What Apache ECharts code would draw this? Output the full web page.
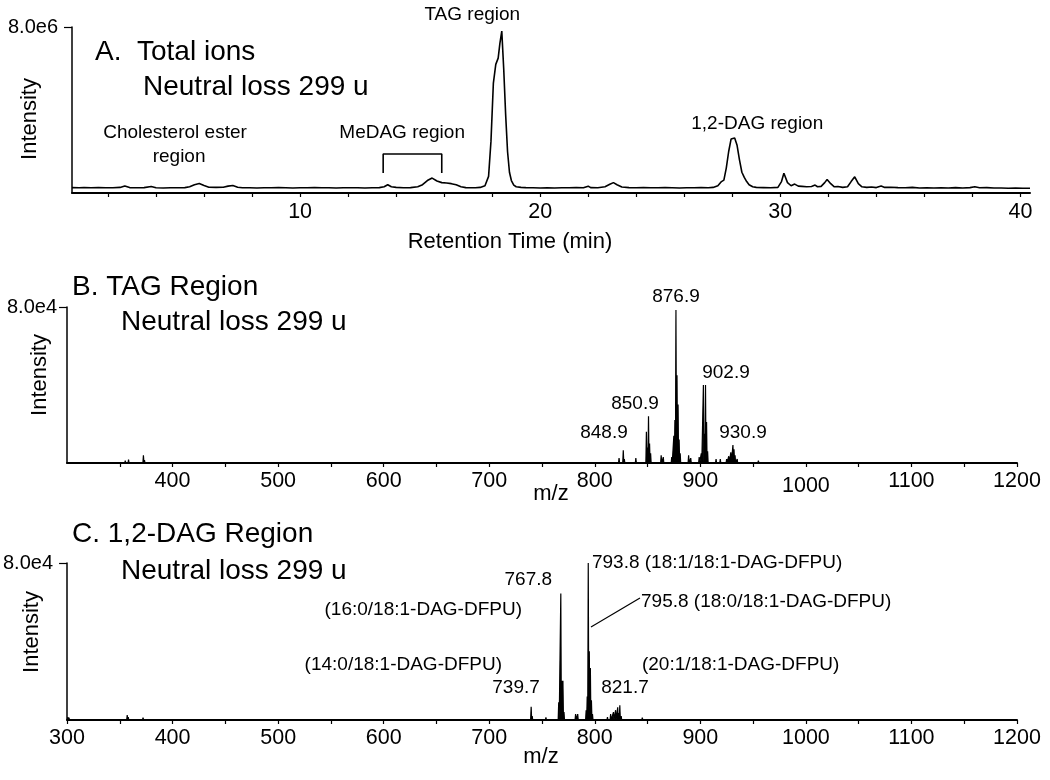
<!DOCTYPE html>
<html>
<head>
<meta charset="utf-8">
<script src="https://cdn.jsdelivr.net/npm/echarts@6/dist/echarts.min.js"></script>
<style>html,body{margin:0;padding:0;background:#fff}#c{width:1050px;height:780px}</style>
</head>
<body>
<div id="c"></div>
<script>
// ---------- Panel A: total ion chromatogram (intensity in units of 1e6) ----------
const rtTime = [0.5,0.8,1.0,1.3,1.6,1.9,2.2,2.5,2.7,2.9,3.2,3.5,3.8,4.0,4.3,4.6,4.9,5.2,5.4,5.6,5.8,6.0,6.2,6.5,6.8,7.0,7.2,7.4,7.6,7.9,8.2,8.5,8.8,9.1,9.4,9.7,10.0,10.3,10.6,10.9,11.2,11.5,11.8,12.1,12.4,12.7,13.0,13.3,13.5,13.65,13.8,14.0,14.3,14.6,14.9,15.1,15.3,15.5,15.7,15.9,16.1,16.3,16.5,16.7,16.9,17.1,17.3,17.5,17.7,17.85,17.95,18.05,18.15,18.25,18.32,18.4,18.48,18.56,18.64,18.72,18.8,18.9,19.0,19.2,19.4,19.7,20.0,20.3,20.6,20.9,21.2,21.5,21.8,22.0,22.1,22.4,22.7,22.9,23.05,23.2,23.4,23.7,24.0,24.3,24.6,24.9,25.2,25.5,25.8,26.1,26.4,26.7,27.0,27.2,27.4,27.55,27.65,27.75,27.85,27.95,28.1,28.2,28.3,28.4,28.5,28.6,28.7,28.85,29.0,29.3,29.6,29.9,30.05,30.15,30.3,30.45,30.6,30.75,30.9,31.1,31.3,31.45,31.55,31.7,31.85,31.95,32.1,32.25,32.4,32.6,32.8,32.95,33.1,33.25,33.4,33.6,33.8,34.0,34.2,34.35,34.6,34.9,35.2,35.5,35.8,36.1,36.4,36.7,37.0,37.3,37.6,37.9,38.1,38.3,38.6,38.9,39.2,39.5,39.8,40.1,40.4];
const rtIntensity = [0.26,0.25,0.26,0.25,0.26,0.25,0.25,0.27,0.34,0.26,0.25,0.26,0.31,0.25,0.24,0.25,0.25,0.26,0.30,0.40,0.46,0.36,0.28,0.27,0.28,0.33,0.36,0.28,0.25,0.25,0.24,0.25,0.25,0.26,0.25,0.24,0.25,0.25,0.26,0.25,0.25,0.24,0.25,0.25,0.25,0.24,0.25,0.26,0.30,0.40,0.30,0.27,0.25,0.26,0.30,0.40,0.60,0.72,0.58,0.50,0.48,0.45,0.40,0.30,0.26,0.25,0.25,0.27,0.35,0.8,2.5,5.3,6.2,6.5,7.2,7.8,6.0,3.8,2.0,1.0,0.6,0.38,0.30,0.27,0.26,0.25,0.24,0.25,0.24,0.25,0.25,0.26,0.25,0.33,0.26,0.25,0.30,0.42,0.50,0.40,0.29,0.26,0.25,0.26,0.25,0.25,0.26,0.25,0.24,0.25,0.25,0.26,0.25,0.27,0.35,0.55,0.62,1.2,2.0,2.6,2.65,2.3,1.6,1.0,0.75,0.55,0.40,0.30,0.27,0.26,0.25,0.27,0.55,0.95,0.50,0.35,0.43,0.33,0.32,0.30,0.31,0.38,0.30,0.32,0.50,0.65,0.45,0.30,0.31,0.27,0.30,0.55,0.78,0.45,0.30,0.27,0.29,0.26,0.34,0.27,0.28,0.26,0.25,0.27,0.24,0.25,0.24,0.25,0.24,0.26,0.24,0.26,0.30,0.25,0.26,0.24,0.24,0.23,0.24,0.23,0.23];
const rtTickLabels = [10,20,30,40];
const rtMinorTicks = [2,4,6,8,10,12,14,16,18,20,22,24,26,28,30,32,34,36,38,40];
const medagBracketX = [13.46,13.46,15.9,15.9];
const medagBracketY = [0.96,1.88,1.88,0.96];
const chromLabelX = [4.79,4.96,14.25,17.17,29.04];
const chromLabelY = [2.89,1.73,2.89,8.58,3.33];
const chromLabelText = ['Cholesterol ester','region','MeDAG region','TAG region','1,2-DAG region'];

// ---------- Panel B: TAG region spectrum (intensity in units of 1e4) ----------
const tagMz  = [355.2,358.3,372.4,373.4,412,418,448,600,692,797.9,812.3,823.0,827.0,828.0,838.9,848.9,849.9,850.9,851.9,852.9,862.9,864.9,872.9,874.9,875.9,876.9,877.9,878.9,879.9,880.9,888.9,890.9,898.9,900.9,902.9,903.9,904.9,905.9,906.9,914.9,918.9,924.9,926.9,928.9,930.9,931.9,932.9,934.9,950,955,958,962,990];
const tagInt = [0.12,0.18,0.40,0.15,0.08,0.06,0.05,0.05,0.05,0.10,0.10,0.25,0.65,0.20,0.25,1.6,0.8,2.4,1.0,0.5,0.4,0.3,0.3,1.4,2.2,7.85,4.5,3.0,1.2,0.5,0.4,0.25,0.3,0.5,4.0,1.5,4.0,2.1,0.6,0.2,0.2,0.2,0.35,0.55,0.92,0.7,0.4,0.2,0.1,0.12,0.1,0.1,0.05];
const tagTickLabels = [400,500,600,700,800,900,1000,1100,1200];
const tagLabelX = [876.9,924.3,838.1,808.7,940.4];
const tagLabelY = [8.51,4.62,3.03,1.54,1.54];
const tagLabelText = ['876.9','902.9','850.9','848.9','930.9'];

// ---------- Panel C: 1,2-DAG region spectrum (intensity in units of 1e4) ----------
const dagMz  = [300.8,301.8,302.8,357,358,365,372,375,392,405,422,445,478,739.7,740.7,753.7,765.8,767.8,768.8,769.8,770.8,781.8,783.8,791.8,792.8,793.8,794.8,795.8,796.8,797.8,809,812,815,817.7,819.7,821.7,822.7,823.7,825,843,845,847,850];
const dagInt = [0.15,0.12,0.10,0.25,0.15,0.08,0.12,0.10,0.06,0.05,0.05,0.05,0.04,0.68,0.2,0.13,0.9,6.45,2.0,2.0,0.4,0.3,0.3,0.5,1.2,8.0,3.5,2.65,1.0,0.3,0.1,0.15,0.3,0.4,0.5,0.65,0.35,0.75,0.2,0.1,0.12,0.1,0.08];
const dagTickLabels = [300,400,500,600,700,800,900,1000,1100,1200];
const dagLeaderX = [796.4,842.8];
const dagLeaderY = [4.74,6.22];
const dagLabelX = [797.3,759.5,843.8,731.0,712.1,844.7,725.4,828.6];
const dagLabelY = [8.0,7.13,6.0,5.61,2.80,2.80,1.63,1.63];
const dagLabelText = ['793.8 (18:1/18:1-DAG-DFPU)','767.8','795.8 (18:0/18:1-DAG-DFPU)','(16:0/18:1-DAG-DFPU)','(14:0/18:1-DAG-DFPU)','(20:1/18:1-DAG-DFPU)','739.7','821.7'];
const dagLabelAlign = ['left','right','left','right','right','left','center','center'];

const massTicks50 = [];
for (let v = 300; v <= 1200; v += 50) massTicks50.push(v);

// ---------- build ----------
const FONT = '"Liberation Sans", Arial, Helvetica, sans-serif';
function zip(a, b) { return a.map((v, i) => [v, b[i]]); }
function stickData(mz, inten, lo, hi) {
  const out = [[lo, 0]];
  mz.forEach((m, i) => { out.push([m - 0.5, 0], [m, inten[i]], [m + 0.5, 0]); });
  out.push([hi, 0]);
  return out;
}
function labelSeries(xi, yi, xs, ys, texts, aligns) {
  return {
    type: 'scatter', xAxisIndex: xi, yAxisIndex: yi, symbolSize: 0, clip: false, silent: true,
    itemStyle: { opacity: 1 },
    data: xs.map((x, i) => ({
      value: [x, ys[i]], name: texts[i],
      label: { align: aligns ? aligns[i] : 'center', color: '#000' }
    })),
    label: {
      show: true, position: [0, 0], verticalAlign: 'middle', formatter: p => p.name,
      color: '#000', opacity: 1, fontFamily: FONT, fontSize: 19
    }
  };
}
const axisLineStyle = { color: '#000', width: 2 };
const tickLabelStyle = { color: '#000', fontFamily: FONT, fontSize: 21.5 };
function xAxisDef(gi, min, max, labels, ticks, margin, formatter, rich) {
  const lab = Object.assign({ margin: margin, customValues: labels, formatter: formatter || (v => String(v)) }, tickLabelStyle);
  if (rich) lab.rich = rich;
  return {
    type: 'value', gridIndex: gi, min: min, max: max,
    splitLine: { show: false },
    axisLine: { show: true, onZero: false, lineStyle: axisLineStyle },
    axisTick: { show: true, length: 4, lineStyle: { color: '#000', width: 1.2 }, customValues: ticks },
    axisLabel: lab
  };
}
function yAxisDef(gi, text, margin) {
  return {
    type: 'value', gridIndex: gi, min: 0, max: 8,
    splitLine: { show: false },
    axisLine: { show: true, lineStyle: { color: '#000', width: 1.5 } },
    axisTick: { show: true, length: 8, lineStyle: { color: '#000', width: 1.2 }, customValues: [8] },
    axisLabel: { color: '#000', fontFamily: FONT, fontSize: 20, margin: margin, customValues: [8], formatter: () => text }
  };
}

const chart = echarts.init(document.getElementById('c'), null, { renderer: 'canvas' });
const txt = (x, y, t, size, align) => ({
  type: 'text', x: x, y: y,
  style: { text: t, fill: '#000', font: size + 'px ' + FONT, textAlign: align || 'left', textVerticalAlign: 'middle' }
});
const vtxt = (x, y, t) => ({
  type: 'text', x: x, y: y, rotation: Math.PI / 2,
  style: { text: t, fill: '#000', font: '22px ' + FONT, textAlign: 'center', textVerticalAlign: 'middle' }
});

chart.setOption({
  animation: false,
  backgroundColor: '#fff',
  grid: [
    { left: 72, right: 20, top: 27, height: 166 },
    { left: 67, right: 33, top: 307, height: 156 },
    { left: 67, right: 33, top: 563, height: 157 }
  ],
  xAxis: [
    xAxisDef(0, 0.5, 40.4, rtTickLabels, rtMinorTicks, 8),
    xAxisDef(1, 300, 1200, tagTickLabels, massTicks50.filter(v => v > 300), 7,
      v => (v === 1000 ? '{low|1000}' : String(v)),
      { low: { color: '#000', fontFamily: FONT, fontSize: 21.5, padding: [5, 0, 0, 0] } }),
    xAxisDef(2, 300, 1200, dagTickLabels, massTicks50, 7)
  ],
  yAxis: [
    yAxisDef(0, '8.0e6', 14),
    yAxisDef(1, '8.0e4', 10),
    yAxisDef(2, '8.0e4', 14)
  ],
  graphic: [
    txt(95, 52, 'A.  Total ions', 28),
    txt(143, 87, 'Neutral loss 299 u', 28),
    txt(72, 287, 'B. TAG Region', 28),
    txt(121, 322, 'Neutral loss 299 u', 28),
    txt(72, 534, 'C. 1,2-DAG Region', 28),
    txt(121, 571, 'Neutral loss 299 u', 28),
    vtxt(30, 119, 'Intensity'),
    vtxt(40, 375, 'Intensity'),
    vtxt(32, 632, 'Intensity'),
    txt(510, 242, 'Retention Time (min)', 22, 'center'),
    txt(551, 494, 'm/z', 22, 'center'),
    txt(541, 757, 'm/z', 22, 'center')
  ],
  series: [
    { type: 'line', xAxisIndex: 0, yAxisIndex: 0, data: zip(rtTime, rtIntensity), showSymbol: false,
      lineStyle: { color: '#000', width: 1.6 }, silent: true },
    { type: 'line', xAxisIndex: 0, yAxisIndex: 0, data: zip(medagBracketX, medagBracketY), showSymbol: false,
      lineStyle: { color: '#000', width: 1.6 }, silent: true },
    labelSeries(0, 0, chromLabelX, chromLabelY, chromLabelText),
    { type: 'line', xAxisIndex: 1, yAxisIndex: 1, data: stickData(tagMz, tagInt, 300, 1200), showSymbol: false,
      lineStyle: { color: '#000', width: 1.2 }, areaStyle: { color: '#000', opacity: 1 }, silent: true },
    labelSeries(1, 1, tagLabelX, tagLabelY, tagLabelText),
    { type: 'line', xAxisIndex: 2, yAxisIndex: 2, data: stickData(dagMz, dagInt, 300, 1200), showSymbol: false,
      lineStyle: { color: '#000', width: 1.2 }, areaStyle: { color: '#000', opacity: 1 }, silent: true },
    { type: 'line', xAxisIndex: 2, yAxisIndex: 2, data: zip(dagLeaderX, dagLeaderY), showSymbol: false,
      lineStyle: { color: '#000', width: 1.2 }, silent: true },
    labelSeries(2, 2, dagLabelX, dagLabelY, dagLabelText, dagLabelAlign)
  ]
});
</script>
</body>
</html>
